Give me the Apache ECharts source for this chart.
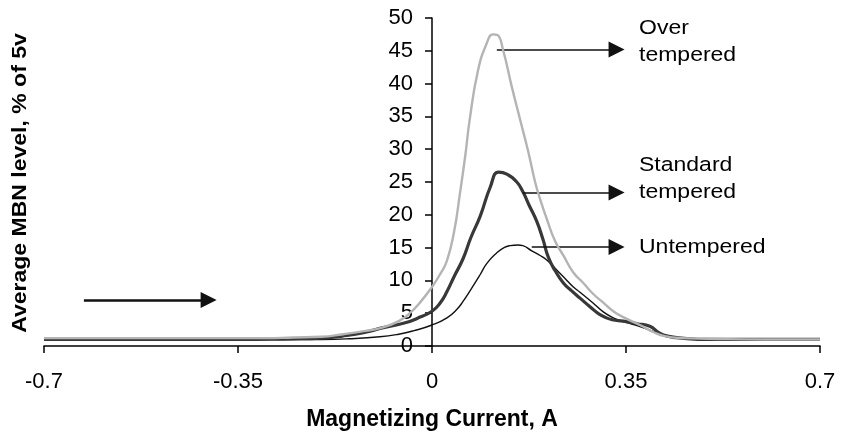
<!DOCTYPE html>
<html>
<head>
<meta charset="utf-8">
<script src="https://cdn.jsdelivr.net/npm/echarts@6/dist/echarts.min.js"></script>
<style>
  html, body { margin: 0; padding: 0; background: #fff; }
  #chart { width: 843px; height: 436px; }
</style>
</head>
<body>
<div id="chart"></div>
<script>
// Magnetizing current (A) and average MBN level (% of 5 V) for each heat treatment
const overX = [-0.70, -0.60, -0.50, -0.40, -0.30, -0.25, -0.20, -0.16, -0.12, -0.09, -0.06, -0.04, -0.02, 0.00,
  0.015, 0.027, 0.040, 0.050, 0.060, 0.068, 0.083, 0.099, 0.110, 0.118, 0.128, 0.144, 0.159, 0.174, 0.186,
  0.195, 0.207, 0.222, 0.237, 0.255, 0.273, 0.290, 0.309, 0.327, 0.345, 0.375, 0.400, 0.420, 0.450, 0.500, 0.600, 0.700];
const overY = [1.2, 1.2, 1.2, 1.2, 1.2, 1.3, 1.4, 1.8, 2.3, 2.8, 3.8, 5.0, 6.8, 9.0,
  11.0, 13.0, 17.5, 23.0, 29.0, 34.5, 42.0, 46.2, 47.5, 47.4, 45.2, 39.5, 34.5, 29.5, 25.0,
  22.4, 19.4, 16.0, 13.8, 11.2, 9.6, 8.0, 6.6, 5.3, 4.4, 3.2, 2.1, 1.5, 1.2, 1.1, 1.0, 1.0];

const stdX = [-0.70, -0.40, -0.25, -0.20, -0.153, -0.12, -0.088, -0.05, -0.027, 0.00, 0.015, 0.027, 0.040, 0.056,
  0.070, 0.087, 0.105, 0.120, 0.135, 0.153, 0.164, 0.175, 0.189, 0.200, 0.210, 0.222, 0.237, 0.252, 0.267,
  0.285, 0.303, 0.325, 0.345, 0.370, 0.393, 0.410, 0.425, 0.450, 0.500, 0.700];
const stdY = [1.0, 1.0, 1.1, 1.2, 1.6, 2.1, 2.8, 3.5, 4.2, 5.3, 6.6, 8.3, 10.6, 13.3,
  16.5, 19.8, 24.2, 26.5, 26.2, 25.0, 23.5, 21.5, 19.0, 16.3, 13.5, 11.5, 9.6, 8.4, 7.3,
  6.0, 4.8, 4.0, 3.8, 3.4, 3.0, 2.0, 1.5, 1.2, 1.0, 1.0];

const untX = [-0.70, -0.30, -0.20, -0.15, -0.094, -0.06, -0.034, 0.00, 0.027, 0.045, 0.056, 0.070, 0.087, 0.099,
  0.117, 0.130, 0.141, 0.155, 0.164, 0.180, 0.195, 0.207, 0.225, 0.240, 0.255, 0.267, 0.290, 0.309, 0.327,
  0.350, 0.370, 0.400, 0.420, 0.450, 0.500, 0.700];
const untY = [1.0, 1.0, 1.0, 1.1, 1.4, 1.8, 2.3, 3.2, 4.3, 5.6, 6.8, 8.6, 10.9, 12.6,
  14.2, 15.0, 15.3, 15.4, 15.3, 14.5, 13.8, 13.1, 11.6, 10.3, 9.0, 8.2, 6.6, 5.2, 4.3,
  3.6, 3.1, 2.2, 1.6, 1.2, 1.0, 1.0];

// Pointer arrows: [startX, endX, level]
const overArrow = [0.117, 0.333, 45.2];
const stdArrow = [0.164, 0.333, 23.4];
const untArrow = [0.180, 0.333, 15.1];
const sweepArrow = [-0.628, -0.403, 7.0];

const seriesNames = ['Untempered', 'Standard tempered', 'Over tempered'];
const xAxisTitle = 'Magnetizing Current, A';
const yAxisTitle = 'Average MBN level, % of 5v';

const FONT = "'Liberation Sans', Arial, sans-serif";
const GRID_LEFT = 44, GRID_RIGHT = 23;
const PLOT_W = 843 - GRID_LEFT - GRID_RIGHT;

function zip(xs, ys) { return xs.map((x, i) => [x, ys[i]]); }

function arrowLine(a, width) {
  return [
    { coord: [a[0], a[2]], lineStyle: { width: width } },
    { coord: [a[1], a[2]] }
  ];
}

const chart = echarts.init(document.getElementById('chart'), null, { renderer: 'canvas' });

const markLineBase = {
  silent: true,
  animation: false,
  symbol: ['none', 'triangle'],
  symbolSize: 16,
  label: { show: false },
  lineStyle: { color: '#111', type: 'solid', width: 1.6 },
  itemStyle: { color: '#111' },
  emphasis: { disabled: true }
};

chart.setOption({
  animation: false,
  backgroundColor: '#fff',
  grid: { left: GRID_LEFT, right: GRID_RIGHT, top: 18, bottom: 88, containLabel: false },
  xAxis: {
    type: 'value',
    min: -0.7,
    max: 0.7,
    interval: 0.35,
    name: xAxisTitle,
    nameLocation: 'middle',
    nameGap: 62,
    nameTextStyle: { fontFamily: FONT, fontSize: 23, fontWeight: 'bold', color: '#000' },
    axisLine: { onZero: true, lineStyle: { color: '#000', width: 1.5 } },
    axisTick: { show: true, length: 7, lineStyle: { color: '#000', width: 1.5 } },
    axisLabel: {
      fontFamily: FONT, fontSize: 22, color: '#000', margin: 25,
      formatter: v => String(Math.round(v * 100) / 100)
    },
    splitLine: { show: false }
  },
  yAxis: {
    type: 'value',
    min: 0,
    max: 50,
    interval: 5,
    // vertical axis drawn through zero current, in the middle of the plot
    offset: -PLOT_W / 2,
    axisLine: { show: true, onZero: false, lineStyle: { color: '#000', width: 1.5 } },
    axisTick: { show: true, length: 7, lineStyle: { color: '#000', width: 1.5 } },
    axisLabel: { fontFamily: FONT, fontSize: 22, color: '#000', margin: 19 },
    splitLine: { show: false }
  },
  series: [
    {
      name: seriesNames[0],
      type: 'line',
      data: zip(untX, untY),
      smooth: 0.5,
      showSymbol: false,
      lineStyle: { color: '#111', width: 1.4 },
      z: 3,
      markLine: Object.assign({}, markLineBase, {
        data: [arrowLine(untArrow, 1.6), arrowLine(sweepArrow, 2.6)]
      })
    },
    {
      name: seriesNames[1],
      type: 'line',
      data: zip(stdX, stdY),
      smooth: 0.5,
      showSymbol: false,
      lineStyle: { color: '#383838', width: 3.2 },
      z: 4,
      markLine: Object.assign({}, markLineBase, { data: [arrowLine(stdArrow, 1.6)] })
    },
    {
      name: seriesNames[2],
      type: 'line',
      data: zip(overX, overY),
      smooth: 0.5,
      showSymbol: false,
      lineStyle: { color: '#b4b4b4', width: 2.4 },
      z: 5,
      markLine: Object.assign({}, markLineBase, { data: [arrowLine(overArrow, 1.6)] })
    }
  ],
  graphic: [
    {
      type: 'text', x: 20, y: 183, rotation: Math.PI / 2, scaleY: 0.9,
      style: { text: yAxisTitle, fontFamily: FONT, fontSize: 23, fontWeight: 'bold', fill: '#000', align: 'center', verticalAlign: 'middle' }
    },
    {
      type: 'text', x: 639, y: 41.5, scaleY: 0.88,
      style: { text: 'Over\ntempered', fontFamily: FONT, fontSize: 23, lineHeight: 30.5, fill: '#000', align: 'left', verticalAlign: 'middle' }
    },
    {
      type: 'text', x: 639, y: 178.5, scaleY: 0.88,
      style: { text: 'Standard\ntempered', fontFamily: FONT, fontSize: 23, lineHeight: 30.5, fill: '#000', align: 'left', verticalAlign: 'middle' }
    },
    {
      type: 'text', x: 639, y: 247, scaleY: 0.88,
      style: { text: seriesNames[0], fontFamily: FONT, fontSize: 23, fill: '#000', align: 'left', verticalAlign: 'middle' }
    }
  ]
});
</script>
</body>
</html>
